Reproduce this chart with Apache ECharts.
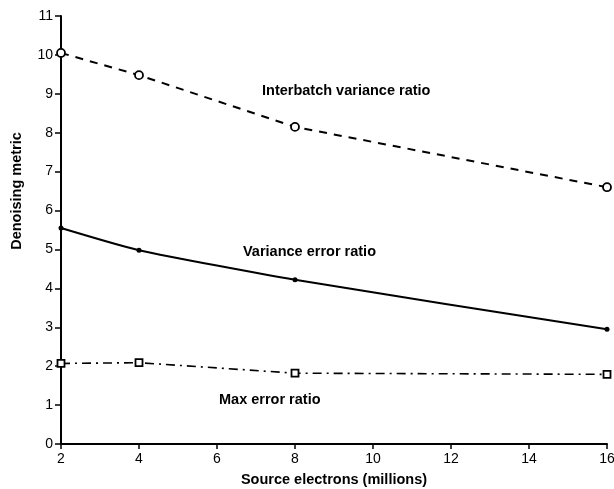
<!DOCTYPE html>
<html><head><meta charset="utf-8">
<script src="https://cdn.jsdelivr.net/npm/echarts@6/dist/echarts.min.js"></script>
<style>html,body{margin:0;padding:0;background:#fff}#c{width:614px;height:489px}</style>
</head><body><div id="c"></div>
<script>
const xValues = [2, 4, 8, 16];
const interbatch = [10.05, 9.48, 8.15, 6.6];
const varianceErr = [5.55, 4.98, 4.22, 2.95];
const maxErr = [2.07, 2.09, 1.82, 1.79];
const xTicks = [2, 4, 6, 8, 10, 12, 14, 16];
const yTicks = [0,1,2,3,4,5,6,7,8,9,10,11];
const labels = ['Interbatch variance ratio', 'Variance error ratio', 'Max error ratio'];
const xTitle = 'Source electrons (millions)';
const yTitle = 'Denoising metric';

const pairs = v => xValues.map((x, i) => [x, v[i]]);
const font = 'Liberation Sans, Arial, sans-serif';
const bold = 'bold 14.5px Liberation Sans, Arial, sans-serif';
const chart = echarts.init(document.getElementById('c'));
chart.setOption({
  animation: false,
  backgroundColor: '#fff',
  grid: {left: 61, right: 7, top: 16, bottom: 45, containLabel: false, outerBoundsMode: 'none'},
  xAxis: {
    type: 'value', min: xTicks[0], max: xTicks[xTicks.length-1], interval: 2,
    name: xTitle, nameLocation: 'middle', nameGap: 28,
    nameTextStyle: {fontFamily: font, fontWeight: 'bold', fontSize: 14.5, color: '#000'},
    axisLine: {lineStyle: {color: '#000', width: 2}},
    axisTick: {show: true, length: 5, lineStyle: {color: '#000', width: 1.5}},
    axisLabel: {fontFamily: font, fontSize: 14, color: '#000', margin: 8},
    splitLine: {show: false}
  },
  yAxis: {
    type: 'value', min: yTicks[0], max: yTicks[yTicks.length-1], interval: 1,
    axisLine: {show: true, lineStyle: {color: '#000', width: 2}},
    axisTick: {show: true, length: 6, lineStyle: {color: '#000', width: 1.5}},
    axisLabel: {fontFamily: font, fontSize: 14, color: '#000', margin: 8},
    splitLine: {show: false}
  },
  series: [
    {type: 'line', name: labels[0], data: pairs(interbatch),
     symbol: 'circle', symbolSize: 8,
     itemStyle: {color: '#fff', borderColor: '#000', borderWidth: 1.8},
     lineStyle: {color: '#000', width: 2, type: [8, 7]}},
    {type: 'line', name: labels[1], data: pairs(varianceErr), smooth: 0.2,
     symbol: 'circle', symbolSize: 5,
     itemStyle: {color: '#000', borderColor: '#000', borderWidth: 0},
     lineStyle: {color: '#000', width: 2}},
    {type: 'line', name: labels[2], data: pairs(maxErr),
     symbol: 'rect', symbolSize: 7,
     itemStyle: {color: '#fff', borderColor: '#000', borderWidth: 1.8},
     lineStyle: {color: '#000', width: 1.6, type: [9, 5, 2, 5]}}
  ],
  graphic: [
    {type: 'text', x: 262, y: 91, style: {text: labels[0], font: bold, fill: '#000', verticalAlign: 'middle'}},
    {type: 'text', x: 243, y: 252, style: {text: labels[1], font: bold, fill: '#000', verticalAlign: 'middle'}},
    {type: 'text', x: 219, y: 400, style: {text: labels[2], font: bold, fill: '#000', verticalAlign: 'middle'}},
    {type: 'text', x: 17, y: 191, rotation: Math.PI / 2, style: {text: yTitle, font: bold, fill: '#000', align: 'center', verticalAlign: 'middle'}}
  ]
});
</script></body></html>
